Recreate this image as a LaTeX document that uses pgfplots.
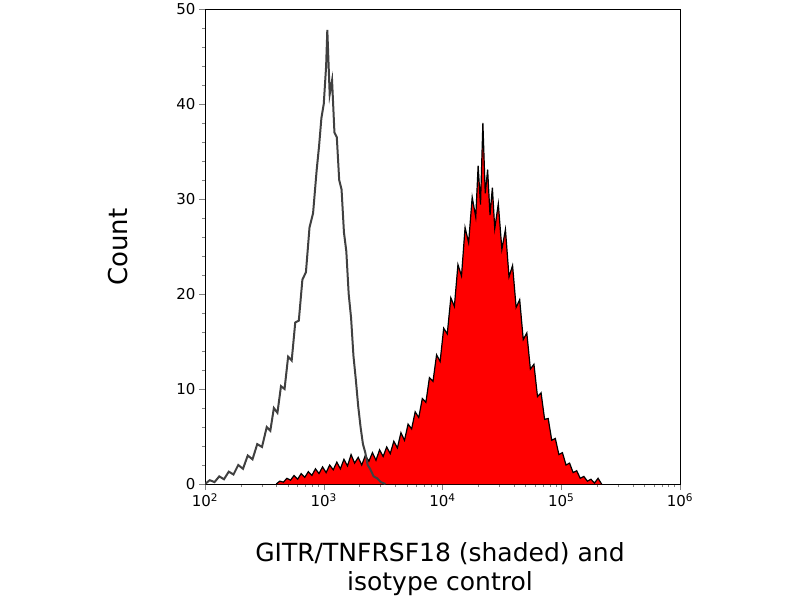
\documentclass[border=0pt]{standalone}
\usepackage{pgfplots}
\pgfplotsset{compat=1.18}
\usepackage{fontspec}
\setmainfont{DejaVu Sans}
\begin{document}
\begin{tikzpicture}[x=1pt,y=1pt]
\path (0,0) rectangle (800,600);
\begin{axis}[at={(205pt,120pt)},anchor=south west,scale only axis,width=475pt,height=475pt,
xmin=2,xmax=6,ymin=0,ymax=50,
xtick={2,3,4,5,6},xticklabels={10\textsuperscript{2},10\textsuperscript{3},10\textsuperscript{4},10\textsuperscript{5},10\textsuperscript{6}},
minor xtick={2.301,2.477,2.602,2.699,2.778,2.845,2.903,2.954,3.301,3.477,3.602,3.699,3.778,3.845,3.903,3.954,4.301,4.477,4.602,4.699,4.778,4.845,4.903,4.954,5.301,5.477,5.602,5.699,5.778,5.845,5.903,5.954},
ytick={0,10,20,30,40,50},minor y tick num=4,
tick align=outside,xtick pos=bottom,ytick pos=left,
major tick length=6pt,minor tick length=3pt,
tick label style={font=\fontsize{15}{17}\selectfont},
/pgf/number format/assume math mode=true]
\addplot[draw=black,fill=red,line width=1.2pt] coordinates {
(2.60,0)(2.63,0.3)(2.66,0.2)(2.69,0.6)(2.72,0.4)(2.75,0.9)(2.78,0.5)(2.81,1.1)(2.84,0.7)(2.87,1.3)(2.90,0.9)(2.93,1.6)(2.96,1.1)(2.99,1.8)(3.02,1.2)(3.05,2.0)(3.08,1.5)(3.11,2.3)(3.14,1.6)(3.17,2.6)(3.20,1.9)(3.23,3.1)(3.26,2.2)(3.29,2.8)(3.32,2.0)(3.35,3.0)(3.38,2.4)(3.41,3.3)(3.44,2.5)(3.47,3.6)(3.50,2.9)(3.53,3.9)(3.56,3.2)(3.59,4.5)(3.62,3.8)(3.65,5.4)(3.68,4.6)(3.71,6.3)(3.74,5.8)(3.77,7.6)(3.80,7.0)(3.83,9.0)(3.86,8.6)(3.89,11.2)(3.92,10.8)(3.95,13.6)(3.98,12.9)(4.01,16.4)(4.04,15.8)(4.07,19.6)(4.10,18.7)(4.13,23.1)(4.16,21.9)(4.19,27.0)(4.22,25.4)(4.25,30.2)(4.28,28.1)(4.30,33.5)(4.32,29.4)(4.34,38.0)(4.36,30.6)(4.38,33.1)(4.40,28.3)(4.42,31.2)(4.44,26.9)(4.47,29.5)(4.50,24.7)(4.53,26.8)(4.56,21.8)(4.59,23.0)(4.62,18.6)(4.65,19.4)(4.68,15.2)(4.71,15.9)(4.74,12.1)(4.77,12.6)(4.80,9.2)(4.83,9.6)(4.86,6.8)(4.89,6.9)(4.92,4.6)(4.95,4.8)(4.98,3.1)(5.01,3.3)(5.04,2.0)(5.07,2.2)(5.10,1.2)(5.13,1.4)(5.16,0.6)(5.19,0.8)(5.22,0.3)(5.25,0.5)(5.28,0.1)(5.31,0.6)(5.34,0)
};
\addplot[draw=black!75,line width=2pt] coordinates {
(2.00,0)(2.04,0.4)(2.08,0.2)(2.12,0.8)(2.16,0.5)(2.20,1.3)(2.24,1.0)(2.28,2.0)(2.32,1.6)(2.36,3.0)(2.40,2.6)(2.44,4.2)(2.48,3.9)(2.52,6.0)(2.55,5.6)(2.58,8.0)(2.61,7.5)(2.64,10.3)(2.67,10.0)(2.70,13.4)(2.73,13.0)(2.76,17.0)(2.79,17.2)(2.82,21.5)(2.85,22.3)(2.88,27.0)(2.91,28.5)(2.94,33.0)(2.96,35.5)(2.98,38.5)(3.00,40.0)(3.02,44.0)(3.03,47.8)(3.05,41.0)(3.07,42.5)(3.09,37.0)(3.11,36.5)(3.13,32.0)(3.15,31.0)(3.17,26.5)(3.19,24.5)(3.21,20.0)(3.23,17.5)(3.25,13.5)(3.27,11.0)(3.29,8.2)(3.31,6.0)(3.33,4.2)(3.35,3.3)(3.37,2.0)(3.39,1.6)(3.42,0.8)(3.45,0.6)(3.48,0.2)(3.52,0)
};
\end{axis}
\node[font=\fontsize{25}{30}\selectfont] at (440,50) {GITR/TNFRSF18 (shaded) and};
\node[font=\fontsize{25}{30}\selectfont] at (440,20) {isotype control};
\node[font=\fontsize{26}{30}\selectfont,rotate=90] at (118,357) {Count};
\end{tikzpicture}
\end{document}
